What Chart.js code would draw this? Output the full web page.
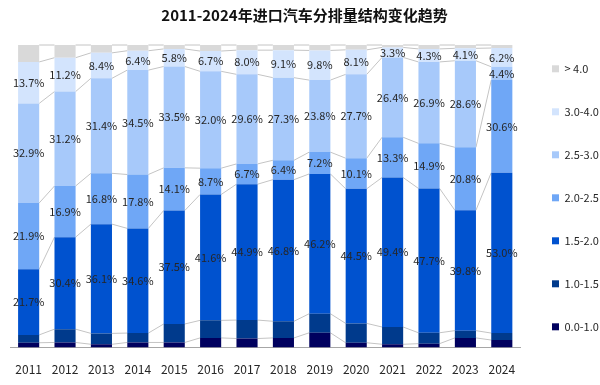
<!DOCTYPE html>
<html>
<head>
<meta charset="utf-8">
<script src="https://cdn.jsdelivr.net/npm/chart.js@4/dist/chart.umd.min.js"></script>
<style>
  html, body { margin: 0; padding: 0; background: #fff; }
  #wrap { width: 600px; height: 385px; position: relative; }
</style>
</head>
<body>
<div id="wrap"><canvas id="grafico"></canvas></div>
<script>
const anos = ['2011', '2012', '2013', '2014', '2015', '2016', '2017', '2018', '2019', '2020', '2021', '2022', '2023', '2024'];

// share of each engine-size band, %
const faixa00a10 = [1.6, 1.7, 1.1, 1.7, 1.7, 3.2, 3.0, 3.2, 4.9, 1.6, 1.1, 1.3, 3.2, 2.5];
const faixa10a15 = [2.6, 4.4, 3.6, 3.1, 6.1, 5.8, 6.1, 5.5, 6.3, 6.4, 5.7, 3.6, 2.4, 2.3];
const faixa15a20 = [21.7, 30.4, 36.1, 34.6, 37.5, 41.6, 44.9, 46.8, 46.2, 44.5, 49.4, 47.7, 39.8, 53.0];
const faixa20a25 = [21.9, 16.9, 16.8, 17.8, 14.1, 8.7, 6.7, 6.4, 7.2, 10.1, 13.3, 14.9, 20.8, 30.6];
const faixa25a30 = [32.9, 31.2, 31.4, 34.5, 33.5, 32.0, 29.6, 27.3, 23.8, 27.7, 26.4, 26.9, 28.6, 4.4];
const faixa30a40 = [13.7, 11.2, 8.4, 6.4, 5.8, 6.7, 8.0, 9.1, 9.8, 8.1, 3.3, 4.3, 4.1, 6.2];
const faixaAcima4 = [5.6, 4.2, 2.6, 1.9, 1.3, 2.0, 1.7, 1.7, 1.8, 1.6, 0.8, 1.3, 1.1, 1.0];

const fonte = "'Noto Sans CJK SC', 'Noto Sans', sans-serif";

// gray series lines between neighbouring bars
const linhasSerie = {
  id: 'linhasSerie',
  beforeDatasetsDraw(chart) {
    const ctx = chart.ctx;
    ctx.save();
    ctx.strokeStyle = '#c4c4c4';
    ctx.lineWidth = 1;
    chart.data.datasets.forEach((ds, d) => {
      const barras = chart.getDatasetMeta(d).data;
      for (let i = 0; i < barras.length - 1; i++) {
        const a = barras[i], b = barras[i + 1];
        ctx.beginPath();
        ctx.moveTo(a.x + a.width / 2, a.y);
        ctx.lineTo(b.x - b.width / 2, b.y);
        ctx.stroke();
      }
    });
    ctx.restore();
  }
};

// percent labels inside the middle bands
const rotulos = {
  id: 'rotulos',
  afterDatasetsDraw(chart) {
    const ctx = chart.ctx;
    ctx.save();
    ctx.font = '11px ' + fonte;
    ctx.fillStyle = '#262626';
    ctx.textAlign = 'center';
    ctx.textBaseline = 'middle';
    chart.data.datasets.forEach((ds, d) => {
      if (!ds.rotulo) return;
      chart.getDatasetMeta(d).data.forEach((barra, i) => {
        const v = ds.data[i];
        ctx.fillText(v.toFixed(1) + '%', barra.x, (barra.y + barra.base) / 2);
      });
    });
    ctx.restore();
  }
};

const ctx = document.getElementById('grafico').getContext('2d');
const grafico = new Chart(ctx, {
  type: 'bar',
  data: {
    labels: anos,
    datasets: [
      { label: '0.0-1.0', data: faixa00a10, backgroundColor: '#00005e' },
      { label: '1.0-1.5', data: faixa10a15, backgroundColor: '#003a8c' },
      { label: '1.5-2.0', data: faixa15a20, backgroundColor: '#0052cf', rotulo: true },
      { label: '2.0-2.5', data: faixa20a25, backgroundColor: '#6fa7f6', rotulo: true },
      { label: '2.5-3.0', data: faixa25a30, backgroundColor: '#a7c9fa', rotulo: true },
      { label: '3.0-4.0', data: faixa30a40, backgroundColor: '#d3e4fd', rotulo: true },
      { label: '> 4.0', data: faixaAcima4, backgroundColor: '#d9d9d9' }
    ]
  },
  options: {
    responsive: true,
    maintainAspectRatio: false,
    animation: false,
    layout: { padding: { left: 9, right: 0, bottom: -7 } },
    datasets: {
      bar: { categoryPercentage: 1, barPercentage: 0.58 }
    },
    plugins: {
      title: {
        display: true,
        text: '2011-2024年进口汽车分排量结构变化趋势',
        color: '#111',
        font: { family: fonte, size: 15, weight: 'bold' },
        padding: { top: 6, bottom: 21 }
      },
      legend: {
        position: 'right',
        reverse: true,
        maxWidth: 80,
        title: { display: true, text: ' ', font: { size: 3 }, padding: 0 },
        labels: {
          boxWidth: 7,
          boxHeight: 7,
          padding: 32,
          color: '#262626',
          font: { family: fonte, size: 11 }
        }
      },
      tooltip: { enabled: false }
    },
    scales: {
      x: {
        stacked: true,
        grid: { display: false, drawTicks: false },
        border: { display: true, color: '#a6a6a6' },
        ticks: { color: '#262626', padding: 15, font: { family: fonte, size: 12 } }
      },
      y: {
        stacked: true,
        display: false,
        min: 0,
        max: 100
      }
    }
  },
  plugins: [linhasSerie, rotulos]
});
</script>
</body>
</html>
